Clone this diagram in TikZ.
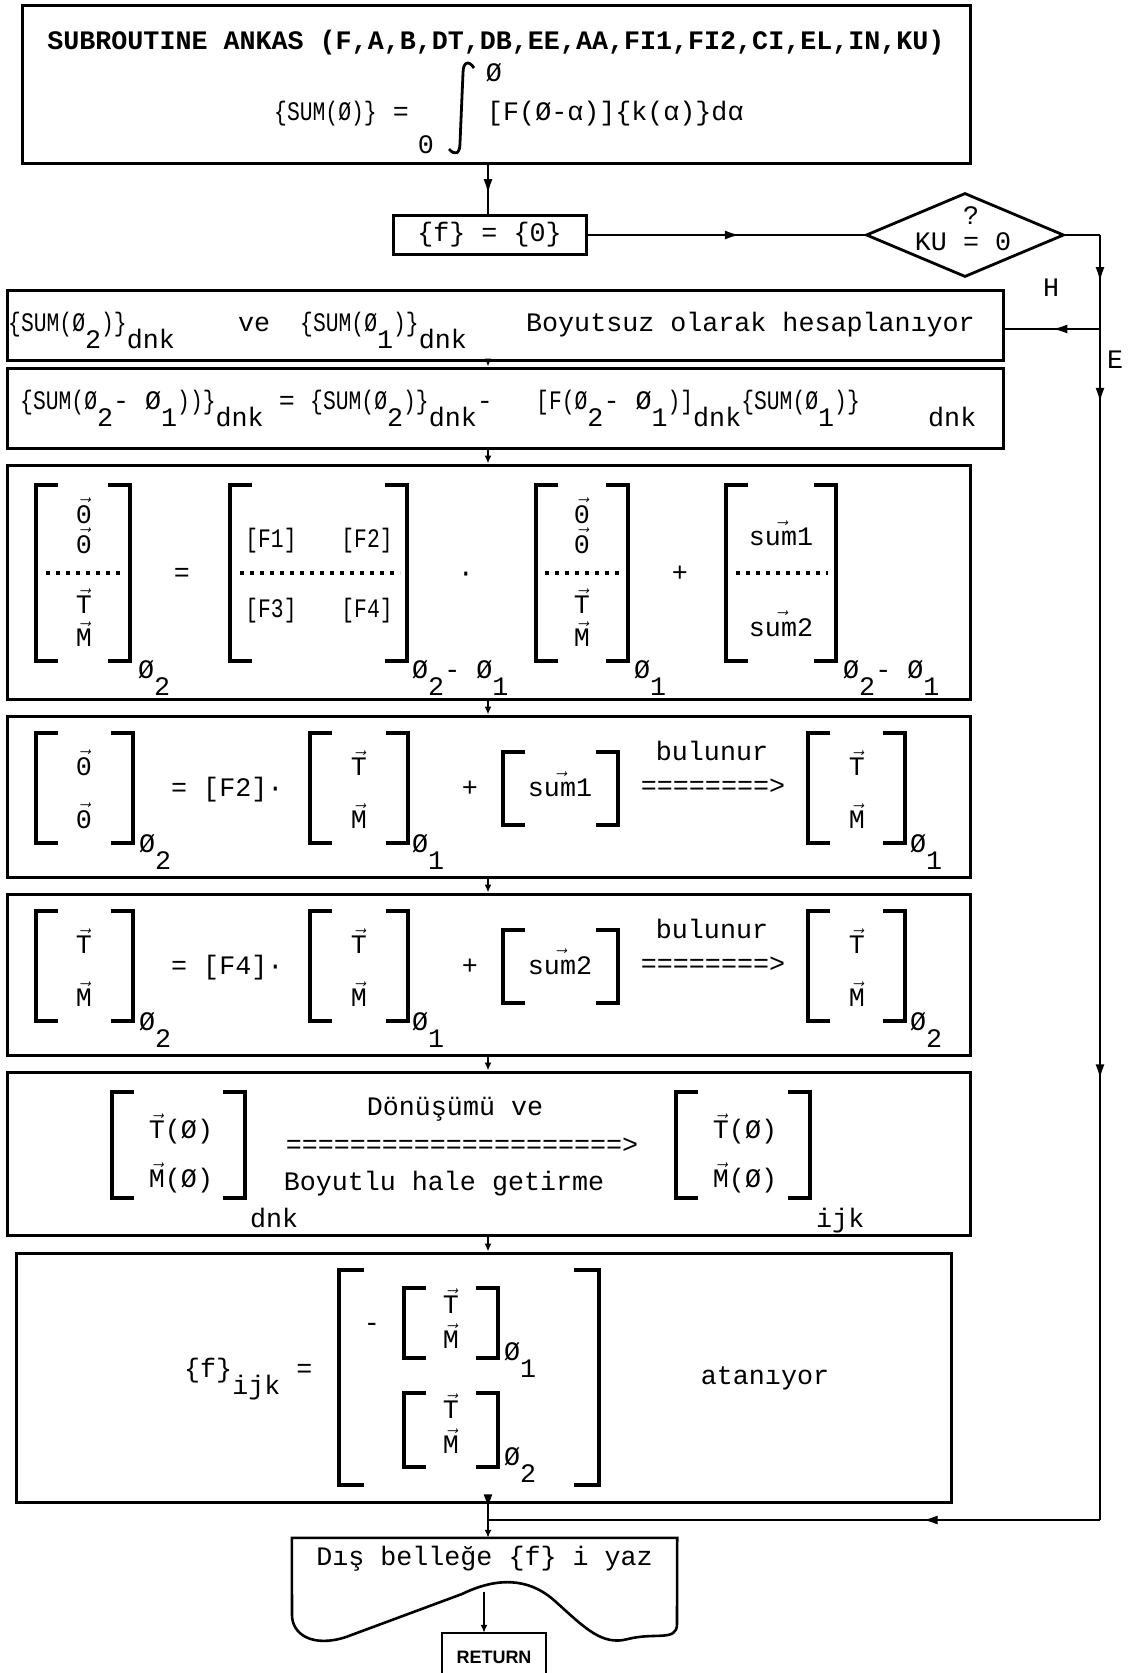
\documentclass[tikz,border=0pt]{standalone}
\usepackage{fontspec}
\usepackage{graphicx}
\usetikzlibrary{shapes.geometric,arrows.meta,decorations.markings}
\newfontfamily\twf{Liberation Mono}
\newfontfamily\rsf{Liberation Sans}
\newcommand\tw{\twf\fontsize{26.7}{30}\selectfont}
\newcommand\cd[1]{\scalebox{0.8}[1]{#1}}
\newcommand\lo[1]{\raisebox{-17pt}{#1}}
\newcommand\vv[1]{\ensuremath{\vec{\mbox{#1}}}}
\newcommand\brk[5][22]{%
  \draw[brkst] ({#2+#1},#4) -- (#2,#4) -- (#2,#5) -- ({#2+#1},#5);
  \draw[brkst] ({#3-#1},#4) -- (#3,#4) -- (#3,#5) -- ({#3-#1},#5);}
\begin{document}
\begin{tikzpicture}[x=1pt,y=-1pt,
  box/.style={draw, line width=3pt, inner sep=0pt, font=\tw},
  txt/.style={inner sep=0pt, font=\tw},
  conn/.style={line width=2.4pt},
  endarrow/.style={-{Latex[length=8pt,width=7pt]}},
  midarrow/.style={postaction={decorate}, decoration={markings, mark=at position #1 with {\arrow{Latex[length=15pt,width=9pt]}}}},
  twoarrows/.style={postaction={decorate}, decoration={markings,
     mark=at position 0.062 with {\arrow{Latex[length=15pt,width=9pt]}},
     mark=at position 0.63 with {\arrow{Latex[length=15pt,width=9pt]}}}},
  brkst/.style={line width=3.6pt},
  dotline/.style={line width=3.6pt, dash pattern=on 3.6pt off 6.4pt},
  intst/.style={line width=2.8pt},
  dia/.style={draw, diamond, line width=2.8pt, inner sep=0pt, minimum width=198pt, minimum height=84pt},
]
\useasboundingbox (0,0) rectangle (1130,1673);

% ---------- boxes ----------
\node[box, minimum width=948pt, minimum height=158pt] (top) at (496,84) {};
\node[box, minimum width=193pt, minimum height=39pt] (fbox) at (489.5,235) {\{f\} = \{0\}};
\node[dia] (dia) at (965,235) {};
\node[box, minimum width=996pt, minimum height=70pt] (b2) at (505,325) {};
\node[box, minimum width=996pt, minimum height=80pt] (b3) at (505,408) {};
\node[box, minimum width=963pt, minimum height=234pt] (b4) at (488.5,582) {};
\node[box, minimum width=963pt, minimum height=161pt] (b5) at (488.5,796.5) {};
\node[box, minimum width=963pt, minimum height=161pt] (b6) at (488.5,974.5) {};
\node[box, minimum width=963pt, minimum height=163pt] (b7) at (488.5,1153.5) {};
\node[box, minimum width=935pt, minimum height=249pt] (b8) at (483.5,1377.5) {};
\node[txt, minimum width=385pt, minimum height=42pt] (doc) at (484.5,1559) {Dış belleğe \{f\} i yaz};
\draw[line width=2.6pt] (doc.north west) -- (292,1615)
   .. controls (292,1634) and (312,1648) .. (346,1637)
   -- (462,1594)
   .. controls (495,1578) and (528,1576) .. (556,1602)
   .. controls (585,1628) and (602,1646) .. (628,1639)
   .. controls (655,1632) and (677,1642) .. (677,1624)
   -- (doc.north east) -- cycle;
\node[inner sep=0pt, font=\rsf\bfseries\fontsize{18}{20}\selectfont, minimum width=104pt, minimum height=48pt] (ret) at (494,1657) {RETURN};
\draw[line width=2.4pt] (ret.north west) ++(0,40) -- (ret.north west) -- (ret.north east) -- ++(0,40);

% ---------- connectors ----------
\coordinate (cx) at (488,0);
\coordinate (r1) at (1100,235);
\coordinate (hb) at (1100,329);
\coordinate (r2) at (1100,1520);
\coordinate (jn) at (488,1520);
\coordinate (wv) at (484,1592);
\draw[conn, midarrow=0.6] (cx |- top.south) -- (cx |- fbox.north);
\draw[conn, midarrow=0.55] (fbox.east) -- (dia.west);
\draw[conn] (dia.east) -- (r1);
\draw[conn, midarrow=0.5] (r1) -- (hb);
\draw[conn, midarrow=0.5] (hb) -- (b2.east |- hb);
\draw[conn, twoarrows] (hb) -- (r2);
\draw[conn, midarrow=0.29] (r2) -- (jn);
\draw[conn, endarrow] (cx |- b2.south) -- (cx |- b3.north);
\draw[conn, endarrow] (cx |- b3.south) -- (cx |- b4.north);
\draw[conn, endarrow] (cx |- b4.south) -- (cx |- b5.north);
\draw[conn, endarrow] (cx |- b5.south) -- (cx |- b6.north);
\draw[conn, endarrow] (cx |- b6.south) -- (cx |- b7.north);
\draw[conn, endarrow] (cx |- b7.south) -- (cx |- b8.north);
\draw[conn, midarrow=0.35] (cx |- b8.south) -- (jn);
\draw[conn, endarrow] (jn) -- (cx |- doc.north);
\draw[conn, endarrow] (wv) -- (wv |- ret.north);
\node[txt] (lh) at (1051,288) {H};
\node[txt] (le) at (1115,360) {E};

% ---------- top box ----------
\node[txt, anchor=base, font=\tw\bfseries] (t1) at (496,49) {SUBROUTINE ANKAS (F,A,B,DT,DB,EE,AA,FI1,FI2,CI,EL,IN,KU)};
\node[txt, anchor=base west] (t2) at (274,120) {\cd{\{SUM(Ø)\}} =};
\node[txt] (t3) at (494,73) {Ø};
\node[txt] (t4) at (426,145) {0};
\node[txt, anchor=base west] (t5) at (487,120) {[F(Ø-α)]\{k(α)\}dα};
\draw[intst] (474,68) .. controls (468,59) and (463,63) .. (463,73) -- (460,143) .. controls (460,154) and (455,156) .. (449,149);

% ---------- diamond text ----------
\node[txt] (ku) at (963,242) {KU = 0};
\node[txt] (qm) at (971,216) {?};

% ---------- box 2 ----------
\node[txt, anchor=base west] (b2a) at (8,331) {\cd{\{SUM(Ø}\lo{2}\cd{)\}}\lo{dnk}};
\node[txt, anchor=base west] (b2b) at (238,331) {ve};
\node[txt, anchor=base west] (b2c) at (300,331) {\cd{\{SUM(Ø}\lo{1}\cd{)\}}\lo{dnk}};
\node[txt, anchor=base east] (b2d) at (975,331) {Boyutsuz olarak hesaplanıyor};

% ---------- box 3 ----------
\node[txt, anchor=base west] (b3a) at (20,409) {\cd{\{SUM(Ø}\lo{2}- Ø\lo{1}\cd{))\}}\lo{dnk}};
\node[txt, anchor=base] (b3b) at (287,409) {=};
\node[txt, anchor=base west] (b3c) at (310,409) {\cd{\{SUM(Ø}\lo{2}\cd{)\}}\lo{dnk}-};
\node[txt, anchor=base west] (b3d) at (536,409) {\cd{[F(Ø}\lo{2}- Ø\lo{1}\cd{)]}\lo{dnk}\cd{\{SUM(Ø}\lo{1}\cd{)\}}};
\node[txt, anchor=base west] (b3e) at (928,409) {\lo{dnk}};

% ---------- box 4 ----------
\brk{36}{130}{485}{661}
\node[txt, anchor=base] (b4a1) at (84,523) {\vv{0}};
\node[txt, anchor=base] (b4a2) at (84,553) {\vv{0}};
\draw[dotline] (46,573) -- (122,573);
\node[txt, anchor=base] (b4a3) at (84,613) {\vv{T}};
\node[txt, anchor=base] (b4a4) at (84,646) {\vv{M}};
\node[txt, anchor=base west] (b4as) at (138,678) {Ø\lo{2}};
\node[txt, anchor=base] (b4eq) at (182,581) {=};
\brk{230}{407}{485}{661}
\node[txt, anchor=base] (f1) at (271,547) {\cd{[F1]}};
\node[txt, anchor=base] (f2) at (367,547) {\cd{[F2]}};
\draw[dotline] (240,573) -- (400,573);
\node[txt, anchor=base] (f3) at (271,617) {\cd{[F3]}};
\node[txt, anchor=base] (f4) at (367,617) {\cd{[F4]}};
\node[txt, anchor=base west] (b4bs) at (412,678) {Ø\lo{2}- Ø\lo{1}};
\node[txt, anchor=base] (b4dot) at (466,581) {·};
\brk{536}{628}{485}{661}
\node[txt, anchor=base] (b4c1) at (582,523) {\vv{0}};
\node[txt, anchor=base] (b4c2) at (582,553) {\vv{0}};
\draw[dotline] (545,573) -- (622,573);
\node[txt, anchor=base] (b4c3) at (582,613) {\vv{T}};
\node[txt, anchor=base] (b4c4) at (582,646) {\vv{M}};
\node[txt, anchor=base west] (b4cs) at (634,678) {Ø\lo{1}};
\node[txt, anchor=base] (b4pl) at (680,581) {+};
\brk{726}{836}{485}{661}
\node[txt, anchor=base] (b4d1) at (781,545) {\vv{sum1}};
\draw[dotline] (736,573) -- (828,573);
\node[txt, anchor=base] (b4d2) at (781,636) {\vv{sum2}};
\node[txt, anchor=base west] (b4ds) at (843,678) {Ø\lo{2}- Ø\lo{1}};

% ---------- box 5 ----------
\brk{36}{133}{733}{843}
\node[txt, anchor=base] (b5a1) at (84,775) {\vv{0}};
\node[txt, anchor=base] (b5a2) at (84,828) {\vv{0}};
\node[txt, anchor=base west] (b5as) at (139,852) {Ø\lo{2}};
\node[txt, anchor=base west] (b5eq) at (171,796) {= [F2]·};
\brk{310}{408}{733}{843}
\node[txt, anchor=base] (b5b1) at (359,775) {\vv{T}};
\node[txt, anchor=base] (b5b2) at (359,828) {\vv{M}};
\node[txt, anchor=base west] (b5bs) at (412,852) {Ø\lo{1}};
\node[txt, anchor=base] (b5pl) at (470,796) {+};
\brk{503}{618}{752}{825}
\node[txt, anchor=base] (b5c) at (560,796) {\vv{sum1}};
\node[txt, anchor=base] (b5bu) at (712,760) {bulunur};
\node[txt, anchor=base] (b5ar) at (713,794) {========>};
\brk{808}{905}{733}{843}
\node[txt, anchor=base] (b5d1) at (857,775) {\vv{T}};
\node[txt, anchor=base] (b5d2) at (857,828) {\vv{M}};
\node[txt, anchor=base west] (b5ds) at (910,852) {Ø\lo{1}};

% ---------- box 6 ----------
\brk{36}{133}{911}{1021}
\node[txt, anchor=base] (b6a1) at (84,953) {\vv{T}};
\node[txt, anchor=base] (b6a2) at (84,1006) {\vv{M}};
\node[txt, anchor=base west] (b6as) at (139,1030) {Ø\lo{2}};
\node[txt, anchor=base west] (b6eq) at (171,974) {= [F4]·};
\brk{310}{408}{911}{1021}
\node[txt, anchor=base] (b6b1) at (359,953) {\vv{T}};
\node[txt, anchor=base] (b6b2) at (359,1006) {\vv{M}};
\node[txt, anchor=base west] (b6bs) at (412,1030) {Ø\lo{1}};
\node[txt, anchor=base] (b6pl) at (470,974) {+};
\brk{503}{618}{930}{1003}
\node[txt, anchor=base] (b6c) at (560,974) {\vv{sum2}};
\node[txt, anchor=base] (b6bu) at (712,938) {bulunur};
\node[txt, anchor=base] (b6ar) at (713,972) {========>};
\brk{808}{905}{911}{1021}
\node[txt, anchor=base] (b6d1) at (857,953) {\vv{T}};
\node[txt, anchor=base] (b6d2) at (857,1006) {\vv{M}};
\node[txt, anchor=base west] (b6ds) at (910,1030) {Ø\lo{2}};

% ---------- box 7 ----------
\brk{112}{245}{1092}{1198}
\node[txt, anchor=base] (b7a1) at (181,1138) {\vv{T}(Ø)};
\node[txt, anchor=base] (b7a2) at (181,1187) {\vv{M}(Ø)};
\node[txt, anchor=base west] (b7dnk) at (250,1227) {dnk};
\node[txt, anchor=base] (b7t1) at (455,1115) {Dönüşümü ve};
\node[txt, anchor=base] (b7ar) at (462,1153) {=====================>};
\node[txt, anchor=base] (b7t2) at (444,1190) {Boyutlu hale getirme};
\brk{676}{810}{1092}{1198}
\node[txt, anchor=base] (b7b1) at (745,1138) {\vv{T}(Ø)};
\node[txt, anchor=base] (b7b2) at (745,1187) {\vv{M}(Ø)};
\node[txt, anchor=base west] (b7ijk) at (816,1227) {ijk};

% ---------- box 8 ----------
\node[txt, anchor=base west] (b8f) at (184,1377) {\{f\}\lo{ijk} =};
\brk[25]{339}{599}{1270}{1485}
\node[txt, anchor=base] (b8mi) at (372,1331) {-};
\brk{404}{498}{1288}{1358}
\node[txt, anchor=base] (b8a1) at (451,1313) {\vv{T}};
\node[txt, anchor=base] (b8a2) at (451,1348) {\vv{M}};
\node[txt, anchor=base west] (b8as) at (504,1360) {Ø\lo{1}};
\brk{404}{498}{1393}{1467}
\node[txt, anchor=base] (b8b1) at (451,1418) {\vv{T}};
\node[txt, anchor=base] (b8b2) at (451,1453) {\vv{M}};
\node[txt, anchor=base west] (b8bs) at (504,1465) {Ø\lo{2}};
\node[txt, anchor=base] (b8at) at (765,1384) {atanıyor};
\end{tikzpicture}
\end{document}
